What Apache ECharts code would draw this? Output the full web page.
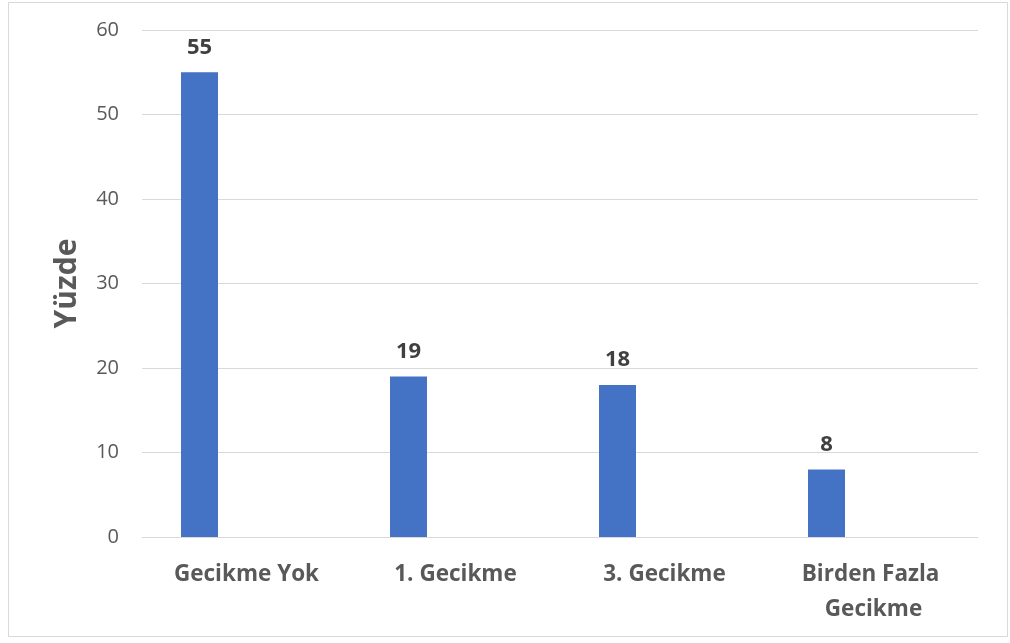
<!DOCTYPE html>
<html>
<head>
<meta charset="utf-8">
<script src="https://cdn.jsdelivr.net/npm/echarts@6/dist/echarts.min.js"></script>
<style>
html,body{margin:0;padding:0;background:#fff;}
#c{width:1010px;height:643px;}
</style>
</head>
<body>
<div id="c"></div>
<script>
var categories = ["Gecikme Yok", "1. Gecikme", "3. Gecikme", "Birden Fazla Gecikme"];
var values = [55, 19, 18, 8];
var emptySeries = [null, null, null, null];
var yTicks = {min: 0, max: 60, interval: 10};
var yName = "Yüzde";

var chart = echarts.init(document.getElementById('c'), null, {renderer: 'canvas'});
var font = '"Open Sans", "Segoe UI", sans-serif';
chart.setOption({
  animation: false,
  backgroundColor: '#fff',
  graphic: [{
    type: 'rect',
    shape: {x: 8.5, y: 2.5, width: 999, height: 634},
    style: {fill: 'none', stroke: '#d9d9d9', lineWidth: 1}
  }],
  grid: {left: 142, right: 32, top: 30, bottom: 106},
  xAxis: {
    type: 'category',
    data: categories,
    axisTick: {show: false},
    axisLine: {lineStyle: {color: '#d9d9d9', width: 1}},
    axisLabel: {
      color: '#595959', fontSize: 22.5, fontWeight: 'bold', fontFamily: font,
      margin: 20, width: 200, overflow: 'break', lineHeight: 35, interval: 0
    }
  },
  yAxis: {
    type: 'value',
    min: yTicks.min, max: yTicks.max, interval: yTicks.interval,
    name: yName,
    nameLocation: 'middle',
    nameGap: 60,
    nameRotate: 90,
    nameTextStyle: {color: '#595959', fontSize: 30, fontWeight: 'bold', fontFamily: font},
    axisLine: {show: false},
    axisTick: {show: false},
    axisLabel: {color: '#595959', fontSize: 20, fontFamily: font, margin: 23},
    splitLine: {lineStyle: {color: '#d9d9d9', width: 1}}
  },
  series: [{
    type: 'bar',
    data: values,
    barWidth: 37,
    barGap: '154%',
    itemStyle: {color: '#4472C4'},
    label: {
      show: true, position: 'top', distance: 14,
      color: '#404040', fontSize: 22, fontWeight: 'bold', fontFamily: font
    }
  }, {
    type: 'bar',
    data: emptySeries,
    barWidth: 37,
    itemStyle: {color: '#ED7D31'}
  }]
});
</script>
</body>
</html>
